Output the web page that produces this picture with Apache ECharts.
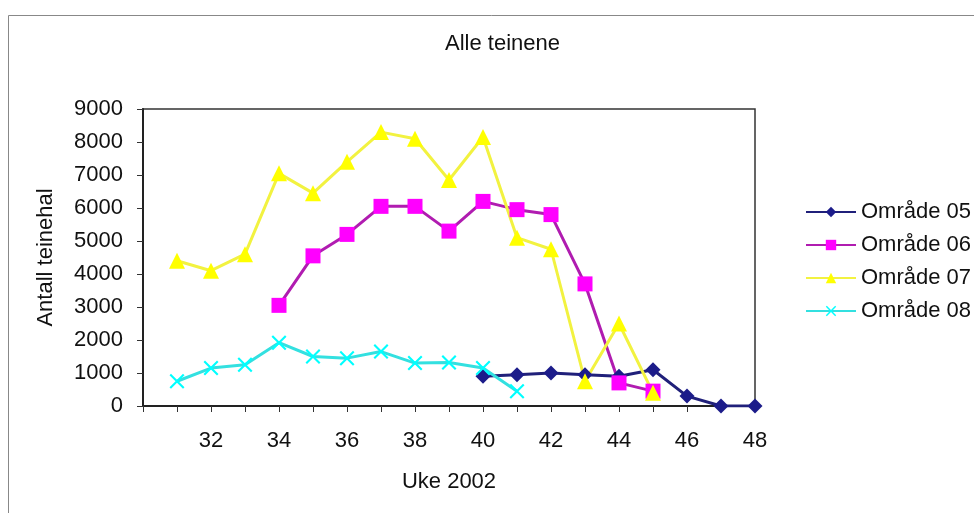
<!DOCTYPE html>
<html lang="no">
<head>
    <meta charset="UTF-8">
    <title>Alle teinene</title>
    <script src="https://cdn.jsdelivr.net/npm/echarts@6/dist/echarts.min.js"></script>
    <style>
        html, body { margin: 0; padding: 0; background: #fff; }
        #main { width: 974px; height: 513px; }
    </style>
</head>
<body>
<div id="main"></div>
<script>
// uke 31..48
var weeks = [31, 32, 33, 34, 35, 36, 37, 38, 39, 40, 41, 42, 43, 44, 45, 46, 47, 48];
var omr05 = [null, null, null, null, null, null, null, null, null, 900, 950, 1000, 950, 900, 1100, 300, 0, 0];
var omr06 = [null, null, null, 3050, 4550, 5200, 6050, 6050, 5300, 6200, 5950, 5800, 3700, 700, 450, null, null, null];
var omr07 = [4400, 4100, 4600, 7050, 6450, 7400, 8300, 8100, 6850, 8150, 5100, 4750, 750, 2500, 400, null, null, null];
var omr08 = [750, 1150, 1250, 1920, 1500, 1450, 1650, 1300, 1320, 1150, 450, null, null, null, null, null, null, null];
var seriesNames = ['Område 05', 'Område 06', 'Område 07', 'Område 08'];

var FONT = '"Liberation Sans", Arial, sans-serif';
var starPath = 'path://M1,0 L5,4 L9,0 L10,1 L6,5 L10,9 L9,10 L5,6 L1,10 L0,9 L4,5 L0,1 Z';

function pairs(vals) {
    var out = [];
    for (var i = 0; i < weeks.length; i++) {
        out.push([weeks[i], vals[i]]);
    }
    return out;
}

function makeSeries(name, vals, lineColor, markColor, symbol, size) {
    return {
        name: name,
        type: 'line',
        data: pairs(vals),
        symbol: symbol,
        symbolSize: size,
        showAllSymbol: true,
        connectNulls: false,
        lineStyle: { color: lineColor, width: 3 },
        itemStyle: { color: markColor, borderWidth: 0 }
    };
}

var myChart = echarts.init(document.getElementById('main'));

var option = {
    animation: false,
    textStyle: { fontFamily: FONT },
    title: {
        text: 'Alle teinene',
        left: 440,
        top: 28,
        textStyle: { fontFamily: FONT, fontSize: 22, fontWeight: 'normal', color: '#111' }
    },
    graphic: [{
        type: 'rect',
        shape: { x: 8.5, y: 15.5, width: 1000, height: 600 },
        style: { fill: 'none', stroke: '#888', lineWidth: 1 },
        silent: true
    }],
    legend: {
        orient: 'vertical',
        left: 800,
        top: 196,
        itemWidth: 50,
        itemHeight: 13,
        itemGap: 11,
        textStyle: { fontFamily: FONT, fontSize: 22, color: '#111' },
        data: seriesNames
    },
    grid: {
        left: 143,
        right: 219,
        top: 109,
        bottom: 107,
        show: true,
        borderColor: '#333',
        borderWidth: 1.5
    },
    xAxis: {
        type: 'value',
        min: 30,
        max: 48,
        interval: 1,
        name: 'Uke 2002',
        nameLocation: 'middle',
        nameGap: 65,
        nameTextStyle: { fontFamily: FONT, fontSize: 22, color: '#111' },
        axisLine: { lineStyle: { color: '#222', width: 2 } },
        axisTick: { show: true, inside: false, length: 6, lineStyle: { color: '#333' } },
        splitLine: { show: false },
        axisLabel: {
            margin: 24,
            fontSize: 22,
            color: '#111',
            formatter: function (v) {
                return (v % 2 === 0 && v > 30) ? String(v) : '';
            }
        }
    },
    yAxis: {
        type: 'value',
        min: 0,
        max: 9000,
        interval: 1000,
        name: 'Antall teinehal',
        nameLocation: 'middle',
        nameGap: 86,
        nameRotate: 90,
        nameTextStyle: { fontFamily: FONT, fontSize: 22, color: '#111' },
        axisLine: { show: true, lineStyle: { color: '#222', width: 2 } },
        axisTick: { show: true, length: 6, lineStyle: { color: '#333' } },
        splitLine: { show: false },
        axisLabel: {
            margin: 20,
            fontSize: 22,
            color: '#111',
            formatter: function (v) { return String(v); }
        }
    },
    series: [
        makeSeries(seriesNames[0], omr05, '#20207a', '#1c1c8a', 'diamond', 15),
        makeSeries(seriesNames[1], omr06, '#b01cb0', '#ff00ff', 'rect', 15),
        makeSeries(seriesNames[2], omr07, '#f2f240', '#ffff00', 'triangle', 16),
        makeSeries(seriesNames[3], omr08, '#33e0e0', '#00ffff', starPath, 15)
    ]
};

myChart.setOption(option);
</script>
</body>
</html>
